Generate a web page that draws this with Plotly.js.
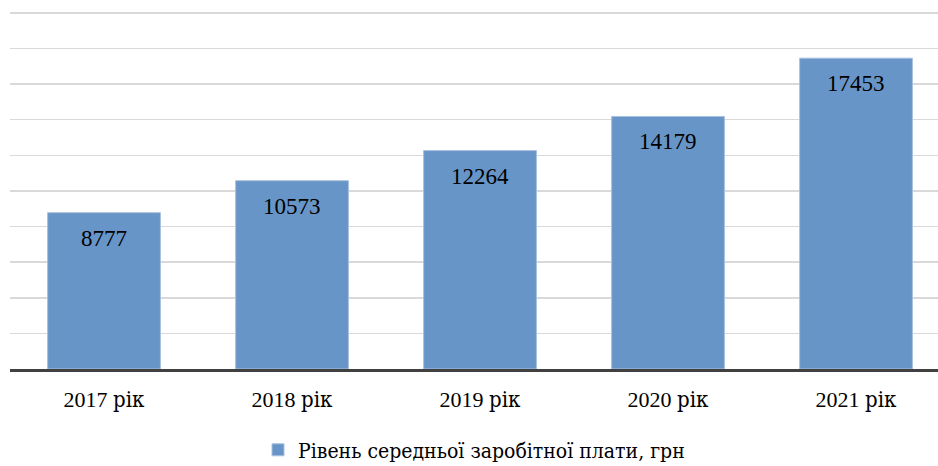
<!DOCTYPE html>
<html>
<head>
<meta charset="utf-8">
<script src="https://cdn.plot.ly/plotly-3.0.1.min.js"></script>
<style>html,body{margin:0;padding:0;background:#fff;}#chart{width:938px;height:466px;}</style>
</head>
<body>
<div id="chart"></div>
<script>
var categories = ['2017 рік', '2018 рік', '2019 рік', '2020 рік', '2021 рік'];
var values = [8777, 10573, 12264, 14179, 17453];
var seriesName = 'Рівень середньої заробітної плати, грн';

var font = '"Liberation Serif", "DejaVu Serif", serif';
var cyrFont = '"DejaVu Serif Condensed", "DejaVu Serif", serif';

function cyrSpan(s) {
  return s.replace(/([\u0400-\u04FF]+)/g, '<span style="font-family:\'DejaVu Serif Condensed\', \'DejaVu Serif\', serif">$1</span>');
}

var trace = {
  type: 'bar',
  x: categories,
  y: values,
  name: seriesName,
  width: 0.6,
  marker: {color: '#6895c7', line: {color: '#a8c1df', width: 1}},
  hoverinfo: 'none',
  showlegend: true
};

var annotations = categories.map(function (c, i) {
  return {
    x: c, y: values[i], xref: 'x', yref: 'y',
    text: String(values[i]), showarrow: false,
    yanchor: 'top', yshift: -11,
    font: {family: font, size: 23, color: '#000'}
  };
});

var layout = {
  width: 938, height: 466,
  margin: {l: 10, r: 0, t: 10.7, b: 97, autoexpand: false},
  paper_bgcolor: '#fff', plot_bgcolor: '#fff',
  font: {family: font},
  showlegend: true,
  legend: {
    orientation: 'h', x: 0.5, xanchor: 'center',
    yref: 'container', y: 0.034, yanchor: 'middle',
    font: {family: cyrFont, size: 21, color: '#000'}
  },
  xaxis: {
    type: 'category',
    range: [-0.5, 4.436],
    tickvals: categories,
    ticktext: categories.map(cyrSpan),
    showline: true, linecolor: '#404040', linewidth: 3,
    showgrid: false, ticks: '',
    ticklabelstandoff: 9,
    tickfont: {family: font, size: 22, color: '#000'}
  },
  yaxis: {
    range: [0, 20100],
    tickvals: [2000, 4000, 6000, 8000, 10000, 12000, 14000, 16000, 18000, 20000],
    showgrid: true, gridcolor: '#d9d9d9', gridwidth: 1.5,
    zeroline: false, showticklabels: false, ticks: ''
  },
  annotations: annotations,
  bargap: 0.4
};

Plotly.newPlot('chart', [trace], layout, {displayModeBar: false, staticPlot: true});
</script>
</body>
</html>
